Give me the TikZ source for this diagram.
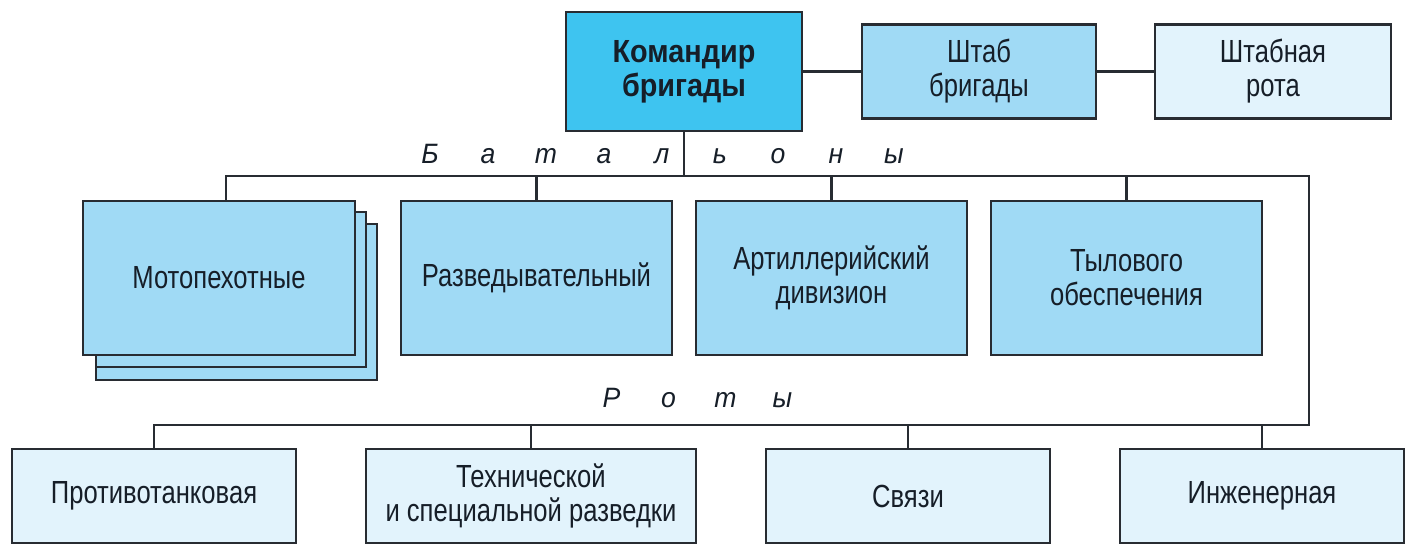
\documentclass[tikz,border=0pt]{standalone}
\usepackage{fontspec}
\setmainfont{Liberation Sans}[FakeStretch=0.8]
\newfontfamily\cmdfont{Liberation Sans}[FakeStretch=0.9]
\newfontfamily\lblfont{Liberation Sans}[FakeStretch=0.95]
\definecolor{bordc}{RGB}{40,44,50}
\definecolor{txtc}{RGB}{22,30,40}
\definecolor{cmdc}{RGB}{62,196,240}
\definecolor{midc}{RGB}{160,218,245}
\definecolor{lightc}{RGB}{226,243,252}
\newcommand{\lspc}[1]{\makebox[58pt]{#1}}
\newcommand{\rspc}[1]{\makebox[57pt]{#1}}
\begin{document}
\begin{tikzpicture}[x=1pt,y=-1pt,
  box/.style={draw=bordc, line width=2.8pt, inner sep=0pt, align=center, text=txtc,
    font=\fontsize{32}{34}\selectfont},
  cmdbox/.style={box, fill=cmdc, font=\cmdfont\bfseries\fontsize{32}{34}\selectfont},
  midbox/.style={box, fill=midc},
  lightbox/.style={box, fill=lightc},
  conn/.style={draw=bordc, line width=2.8pt},
  lbl/.style={text=txtc, inner sep=0pt, anchor=base, font=\lblfont\itshape\fontsize{28}{30}\selectfont}]
\useasboundingbox (0,0) rectangle (1425,553);

% top row
\node[cmdbox, minimum width=236pt, minimum height=119pt] (cmd) at (684,71.5) {Командир\\бригады};
\node[midbox, minimum width=234pt, minimum height=94pt] (shtab) at (979,71.5) {Штаб\\бригады};
\node[lightbox, minimum width=236pt, minimum height=94pt] (rota) at (1273,71.5) {Штабная\\рота};

% battalions
\node[midbox, minimum width=281pt, minimum height=156pt] (moto3) at (236.5,302) {};
\node[midbox, minimum width=270pt, minimum height=155pt] (moto2) at (231,289.5) {};
\node[midbox, minimum width=272pt, minimum height=154pt] (moto) at (219,278) {Мотопехотные};
\node[midbox, minimum width=271pt, minimum height=154pt] (razv) at (536.5,278) {Разведывательный};
\node[midbox, minimum width=271pt, minimum height=154pt] (art) at (831.5,278) {Артиллерийский\\дивизион};
\node[midbox, minimum width=271pt, minimum height=154pt] (tyl) at (1126.5,278) {Тылового\\обеспечения};

% companies
\node[lightbox, minimum width=284pt, minimum height=94pt] (pt) at (154,496) {Противотанковая};
\node[lightbox, minimum width=330pt, minimum height=94pt] (tech) at (531,496) {Технической\\и специальной разведки};
\node[lightbox, minimum width=284pt, minimum height=94pt] (svz) at (908,496) {Связи};
\node[lightbox, minimum width=284pt, minimum height=94pt] (inzh) at (1262,496) {Инженерная};

% bus coordinates
\coordinate (bus) at (684,176);
\coordinate (busR) at (1309,176);
\coordinate (rbusR) at (1309,425);
\coordinate (rbus) at (700,425);

% labels
\node[lbl] (batl) at (662,164) {\lspc{Б}\lspc{а}\lspc{т}\lspc{а}\lspc{л}\lspc{ь}\lspc{о}\lspc{н}\lspc{ы}};
\node[lbl] (rotl) at (697,407) {\rspc{Р}\rspc{о}\rspc{т}\rspc{ы}};

% connectors
\draw[conn] (cmd.east) -- (shtab.west);
\draw[conn] (shtab.east) -- (rota.west);
\draw[conn] (cmd.south) -- (bus);
\draw[conn] ([xshift=7pt]moto.north) |- (busR) -- (rbusR) -| (pt.north);
\draw[conn] (razv.north) -- (razv.north |- bus);
\draw[conn] (art.north) -- (art.north |- bus);
\draw[conn] (tyl.north) -- (tyl.north |- bus);
\draw[conn] (tech.north) -- (tech.north |- rbus);
\draw[conn] (svz.north) -- (svz.north |- rbus);
\draw[conn] (inzh.north) -- (inzh.north |- rbus);
\end{tikzpicture}
\end{document}
